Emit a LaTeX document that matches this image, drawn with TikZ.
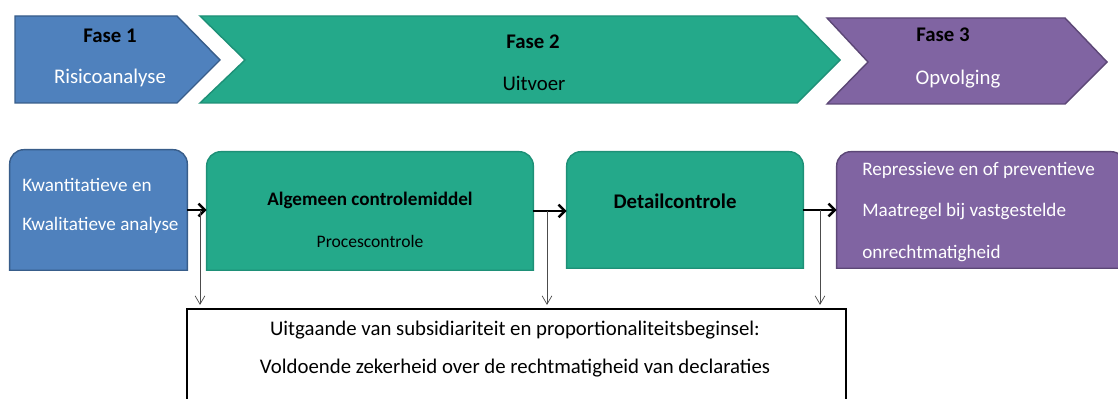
\documentclass[tikz,border=0pt]{standalone}
\usepackage{fontspec}
\setmainfont{Carlito}
\usetikzlibrary{arrows.meta,backgrounds}
\definecolor{FaseBlue}{HTML}{4F81BD}
\definecolor{FaseBlueLine}{HTML}{385D8A}
\definecolor{FaseGreen}{HTML}{24A98A}
\definecolor{FaseGreenLine}{HTML}{1E9077}
\definecolor{FasePurple}{HTML}{8064A2}
\definecolor{FasePurpleLine}{HTML}{5C4776}

\begin{document}
\begin{tikzpicture}[x=0.025cm, y=-0.025cm]
\tikzset{
txt/.style={ font=\fontsize{13.6}{16}\selectfont , inner sep=0pt },
kop/.style={ txt , font=\fontsize{14.8}{17}\selectfont\bfseries },
fase/.style={ txt , font=\fontsize{14.8}{17}\selectfont },
box/.style={ rectangle , inner sep=0pt , draw=none },
edge/.style={ line width=1.8pt , -{Straight Barb[length=4.5pt,width=9pt]} },
link/.style={ line width=0.5pt , draw=black!70 , -{Straight Barb[length=6pt,width=7pt]} },
chev/.style={ line width=1pt }
}
\useasboundingbox (0,0) rectangle (1118,399);

\fill[chev, fill=FaseBlue, draw=FaseBlueLine]
  (15,16) -- (177,16) -- (220,60) -- (177,103) -- (15,103) -- cycle;
\fill[chev, fill=FaseGreen, draw=FaseGreenLine]
  (200,16) -- (797,16) -- (840,60) -- (797,103) -- (200,103) -- (245,60) -- cycle;
\fill[chev, fill=FasePurple, draw=FasePurpleLine]
  (827,18) -- (1065,18) -- (1107,62) -- (1065,104) -- (827,104) -- (868,62) -- cycle;

\node[kop] (f1) at (110,36) {Fase 1};
\node[fase, text=white] (f1t) at (110,78) {Risicoanalyse};
\node[kop] (f2) at (533,42) {Fase 2};
\node[fase] (f2t) at (534,83) {Uitvoer};
\node[kop] (f3) at (943,35) {Fase 3};
\node[fase, text=white] (f3t) at (958,79) {Opvolging};

\node[box, minimum width=4.425cm, minimum height=3cm] (anal) at (98.5,210) {};
\node[box, minimum width=8.15cm, minimum height=2.95cm] (proc) at (370,211) {};
\node[box, minimum width=5.9cm, minimum height=2.9cm] (det) at (685,210) {};
\node[box, minimum width=7.2cm, minimum height=2.9cm] (maat) at (981,210) {};
\node[box, minimum width=16.475cm, minimum height=2.5cm, draw=black, line width=1.8pt] (verkl) at (516.5,359) {};

\node[txt, text=white, anchor=west] (a1) at (22,185) {Kwantitatieve en};
\node[txt, text=white, anchor=west] (a2) at (22,225) {Kwalitatieve analyse};
\node[txt, font=\fontsize{13.6}{16}\selectfont\bfseries] (p1) at (370,200) {Algemeen controlemiddel};
\node[txt, font=\fontsize{12.5}{15}\selectfont] (p2) at (370,241) {Procescontrole};
\node[kop] (d1) at (675,201) {Detailcontrole};
\node[txt, text=white, anchor=west] (m1) at (862,170) {Repressieve en of preventieve};
\node[txt, text=white, anchor=west] (m2) at (862,212) {Maatregel bij vastgestelde};
\node[txt, text=white, anchor=west] (m3) at (862,254) {onrechtmatigheid};
\node[fase] (v1) at (515,330) {Uitgaande van subsidiariteit en proportionaliteitsbeginsel:};
\node[fase] (v2) at (515,368) {Voldoende zekerheid over de rechtmatigheid van declaraties};

\begin{scope}[on background layer]
\draw[chev, fill=FaseBlue, draw=FaseBlueLine] (anal.south west)
  {[rounded corners=10pt] -- (anal.north west) -- (anal.north east)} -- (anal.south east) -- cycle;
\draw[chev, fill=FaseGreen, draw=FaseGreenLine] (proc.south west)
  {[rounded corners=10pt] -- (proc.north west) -- (proc.north east)} -- (proc.south east) -- cycle;
\draw[chev, fill=FaseGreen, draw=FaseGreenLine] (det.south west)
  {[rounded corners=10pt] -- (det.north west) -- (det.north east)} -- (det.south east) -- cycle;
\draw[chev, fill=FasePurple, draw=FasePurpleLine] (maat.south west)
  {[rounded corners=10pt] -- (maat.north west) -- (maat.north east)} -- (maat.south east) -- cycle;
\end{scope}

\draw[edge] (anal.east) -- (anal.east -| proc.west);
\draw[edge] (proc.east) -- (proc.east -| det.west);
\draw[edge] (det.east) -- (det.east -| maat.west);

\coordinate (s1) at (200,210);
\coordinate (s2) at (547,211);
\coordinate (s3) at (820,210);
\draw[link] (s1) -- ([yshift=2pt]s1 |- verkl.north);
\draw[link] (s2) -- ([yshift=2pt]s2 |- verkl.north);
\draw[link] (s3) -- ([yshift=2pt]s3 |- verkl.north);

\end{tikzpicture}
\end{document}
